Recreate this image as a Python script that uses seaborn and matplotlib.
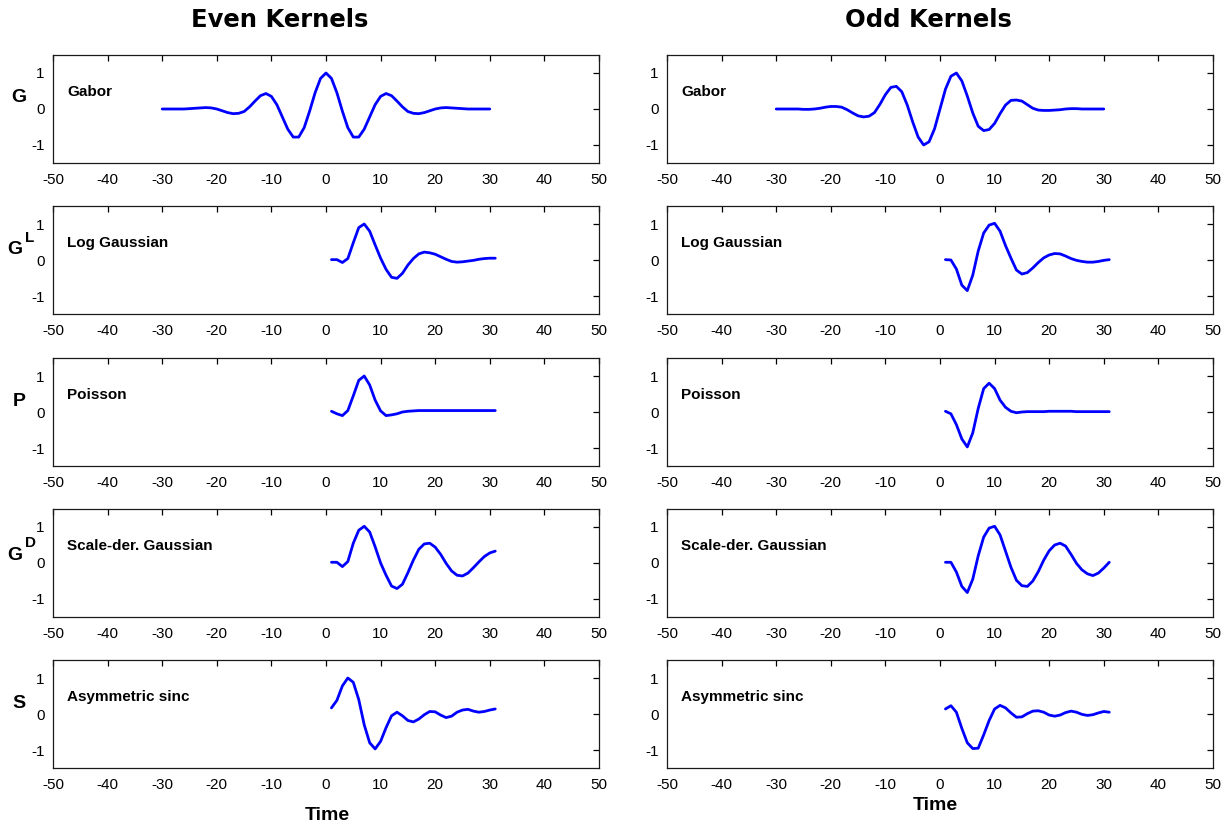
import numpy as np
import pandas as pd
import matplotlib
matplotlib.use("Agg")
import matplotlib.pyplot as plt
from matplotlib import font_manager
import seaborn as sns

# ---- kernel samples ----
gabor_time = list(range(-30, 31))
causal_time = list(range(1, 32))

even_gabor = [0.00, 0.00, 0.00, 0.00, 0.00, 0.01, 0.02, 0.03, 0.04, 0.03,
              0.00, -0.05, -0.10, -0.13, -0.12, -0.07, 0.06, 0.22, 0.37, 0.43,
              0.35, 0.12, -0.22, -0.56, -0.78, -0.78, -0.52, -0.06, 0.45, 0.85,
              1.00,
              0.85, 0.45, -0.06, -0.52, -0.78, -0.78, -0.56, -0.22, 0.12, 0.35,
              0.43, 0.37, 0.22, 0.06, -0.07, -0.12, -0.13, -0.10, -0.05, 0.00,
              0.03, 0.04, 0.03, 0.02, 0.01, 0.00, 0.00, 0.00, 0.00, 0.00]
odd_gabor = [0.00, 0.00, 0.00, 0.00, 0.00, -0.01, -0.01, 0.00, 0.02, 0.05,
             0.07, 0.07, 0.05, -0.02, -0.11, -0.19, -0.22, -0.20, -0.10, 0.13,
             0.40, 0.60, 0.63, 0.48, 0.11, -0.36, -0.78, -1.00, -0.91, -0.55,
             0.00,
             0.55, 0.91, 1.00, 0.78, 0.36, -0.11, -0.48, -0.60, -0.57, -0.40,
             -0.13, 0.11, 0.24, 0.25, 0.22, 0.12, 0.02, -0.03, -0.04, -0.04,
             -0.03, -0.02, 0.00, 0.01, 0.01, 0.00, 0.00, 0.00, 0.00, 0.00]

even_log_gauss = [0.01, 0.01, -0.07, 0.04, 0.48, 0.90, 1.00, 0.80, 0.42, 0.05,
                  -0.26, -0.48, -0.51, -0.37, -0.14, 0.04, 0.17, 0.22, 0.20, 0.16,
                  0.09, 0.02, -0.04, -0.06, -0.05, -0.03, -0.01, 0.02, 0.04, 0.05,
                  0.05]
odd_log_gauss = [0.01, 0.00, -0.25, -0.70, -0.85, -0.42, 0.25, 0.75, 0.97, 1.02,
                 0.80, 0.40, 0.05, -0.28, -0.39, -0.35, -0.22, -0.07, 0.06, 0.14,
                 0.18, 0.17, 0.11, 0.04, -0.01, -0.04, -0.06, -0.06, -0.04, -0.01,
                 0.01]

even_poisson = [0.02, -0.05, -0.10, 0.04, 0.45, 0.88, 1.00, 0.75, 0.33, 0.03,
                -0.10, -0.08, -0.05, 0.00, 0.02, 0.03, 0.04, 0.04, 0.04, 0.04,
                0.04, 0.04, 0.04, 0.04, 0.04, 0.04, 0.04, 0.04, 0.04, 0.04,
                0.04]
odd_poisson = [0.02, -0.05, -0.35, -0.75, -0.97, -0.58, 0.10, 0.65, 0.80, 0.65,
               0.33, 0.13, 0.02, -0.02, 0.00, 0.01, 0.01, 0.01, 0.01, 0.02,
               0.02, 0.02, 0.02, 0.02, 0.01, 0.01, 0.01, 0.01, 0.01, 0.01,
               0.01]

even_scale_der = [0.02, 0.02, -0.10, 0.04, 0.55, 0.91, 1.02, 0.86, 0.45, 0.00,
                  -0.34, -0.64, -0.71, -0.59, -0.27, 0.08, 0.38, 0.53, 0.55, 0.44,
                  0.24, -0.01, -0.22, -0.34, -0.36, -0.28, -0.13, 0.03, 0.18, 0.28,
                  0.33]
odd_scale_der = [0.02, 0.02, -0.25, -0.65, -0.82, -0.45, 0.20, 0.72, 0.97, 1.02,
                 0.78, 0.33, -0.12, -0.48, -0.63, -0.65, -0.50, -0.24, 0.08, 0.34,
                 0.50, 0.55, 0.47, 0.24, -0.01, -0.19, -0.30, -0.35, -0.28, -0.14,
                 0.02]

even_sinc = [0.17, 0.38, 0.78, 1.00, 0.88, 0.40, -0.30, -0.80, -0.97, -0.76,
             -0.38, -0.05, 0.05, -0.05, -0.18, -0.22, -0.14, -0.02, 0.07, 0.06,
             -0.03, -0.10, -0.06, 0.05, 0.11, 0.13, 0.08, 0.05, 0.07, 0.11,
             0.14]
odd_sinc = [0.14, 0.23, 0.05, -0.40, -0.80, -0.96, -0.95, -0.58, -0.18, 0.14,
            0.24, 0.17, 0.03, -0.09, -0.08, 0.01, 0.08, 0.09, 0.05, -0.03,
            -0.06, -0.03, 0.04, 0.08, 0.05, -0.01, -0.04, -0.02, 0.03, 0.07,
            0.05]

kernel_names = ["Gabor", "Log Gaussian", "Poisson", "Scale-der. Gaussian", "Asymmetric sinc"]
row_symbols = [("G", ""), ("G", "L"), ("P", ""), ("G", "D"), ("S", "")]
column_titles = ["Even Kernels", "Odd Kernels"]
x_ticks = [-50, -40, -30, -20, -10, 0, 10, 20, 30, 40, 50]
y_ticks = [-1, 0, 1]

even_series = [even_gabor, even_log_gauss, even_poisson, even_scale_der, even_sinc]
odd_series = [odd_gabor, odd_log_gauss, odd_poisson, odd_scale_der, odd_sinc]

# ---- style ----
sns.set_style("white")
available = {f.name for f in font_manager.fontManager.ttflist}
base_font = "Liberation Sans" if "Liberation Sans" in available else "DejaVu Sans"
plt.rcParams["font.family"] = [base_font, "DejaVu Sans"]
plt.rcParams["axes.unicode_minus"] = False
plt.rcParams["text.color"] = "black"
plt.rcParams["axes.labelcolor"] = "black"
plt.rcParams["xtick.color"] = "black"
plt.rcParams["ytick.color"] = "black"
plt.rcParams["axes.edgecolor"] = "#1a1a1a"
plt.rcParams["axes.linewidth"] = 0.9

W, H = 1228, 827
fig = plt.figure(figsize=(W / 100, H / 100), dpi=100)

col_left = [53, 667]
ax_width = 546
row_top = [55, 206, 358, 509, 660]
ax_height = 108

for row in range(5):
    for col, series in enumerate([even_series, odd_series]):
        x0 = col_left[col] / W
        y0 = 1 - (row_top[row] + ax_height) / H
        ax = fig.add_axes([x0, y0, ax_width / W, ax_height / H])
        t = gabor_time if row == 0 else causal_time
        df = pd.DataFrame({"t": t, "v": series[row]})
        sns.lineplot(data=df, x="t", y="v", ax=ax, color="#0000ff",
                     linewidth=2.0, sort=False)
        ax.set_xlim(-50, 50)
        ax.set_ylim(-1.5, 1.5)
        ax.set_xticks(x_ticks)
        ax.set_yticks(y_ticks)
        ax.set_xlabel("")
        ax.set_ylabel("")
        ax.tick_params(direction="in", length=4, width=0.9, top=True, right=True,
                       labelsize=11, pad=6, colors="black")
        ax.tick_params(axis="x", pad=7)
        ax.text(0.026, 0.66, kernel_names[row], transform=ax.transAxes,
                fontsize=11, fontweight="bold", ha="left", va="center")
        for s in ax.spines.values():
            s.set_visible(True)

# row symbols on the left
sym_y = [98, 250, 401, 555, 704]
for (sym, sup), yc in zip(row_symbols, sym_y):
    xc = 15 if sup else 19
    fig.text(xc / W, 1 - yc / H, sym, fontsize=14, fontweight="bold",
             ha="center", va="center")
    if sup:
        fig.text(25 / W, 1 - (yc - 12) / H, sup, fontsize=11, fontweight="bold",
                 ha="left", va="center")

# column titles
fig.text(280 / W, 1 - 20 / H, column_titles[0], fontsize=17.5, fontweight="bold",
         family=["DejaVu Sans"], ha="center", va="center")
fig.text(928 / W, 1 - 20 / H, column_titles[1], fontsize=17.5, fontweight="bold",
         family=["DejaVu Sans"], ha="center", va="center")

# time labels
fig.text(327 / W, 1 - 815 / H, "Time", fontsize=14, fontweight="bold",
         ha="center", va="center")
fig.text(935 / W, 1 - 805 / H, "Time", fontsize=14, fontweight="bold",
         ha="center", va="center")

fig.savefig("out.png", dpi=100, facecolor="white")
